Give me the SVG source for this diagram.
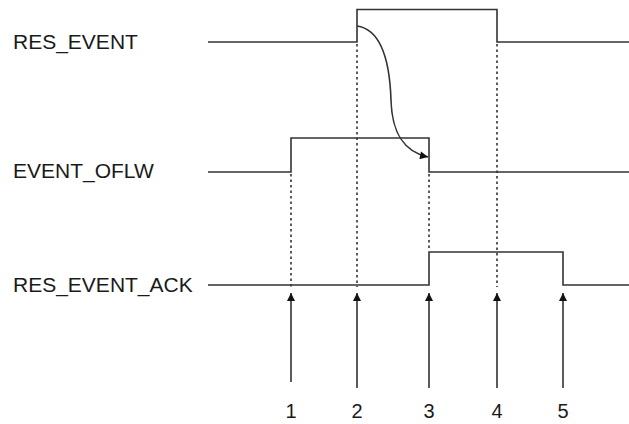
<svg xmlns="http://www.w3.org/2000/svg" width="629" height="424" viewBox="0 0 629 424">
<style>
.sig{fill:none;stroke:#333;stroke-width:1.6;stroke-linejoin:miter}
.dot{fill:none;stroke:#333;stroke-width:1.6;stroke-dasharray:2.5,3}
.arr{fill:none;stroke:#333;stroke-width:1.6}
.lbl{font-family:"Liberation Sans",Arial,sans-serif;font-size:21px;fill:#1a1a1a}
.num{font-family:"Liberation Sans",Arial,sans-serif;font-size:20px;fill:#1a1a1a;text-anchor:middle}
</style>
<defs>
<marker id="ah" viewBox="0 0 10 10" refX="10" refY="5" markerUnits="userSpaceOnUse" markerWidth="12" markerHeight="8" orient="auto">
<path d="M0,0 L10,5 L0,10 z" fill="#111"/>
</marker>
</defs>
<g id="res_event">
<text class="lbl" x="13" y="49">RES_EVENT</text>
<path class="sig" d="M208,42 H357 V9.5 H497 V42 H629"/>
</g>
<g id="event_oflw">
<text class="lbl" x="13" y="178">EVENT_OFLW</text>
<path class="sig" d="M208,172 H291 V138 H429 V172 H629"/>
</g>
<g id="res_event_ack">
<text class="lbl" x="13" y="292">RES_EVENT_ACK</text>
<path class="sig" d="M208,285 H429 V252 H563 V285 H629"/>
</g>
<g id="connectors">
<path class="dot" d="M291,174 V287"/>
<path class="dot" d="M357,44 V287"/>
<path class="dot" d="M429,174 V251"/>
<path class="dot" d="M497,44 V287"/>
<path class="arr" d="M357,26 C385,30 390,70 391,100 C392,135 405,152 428,157" marker-end="url(#ah)"/>
<path class="arr" d="M291,382 V293" marker-end="url(#ah)"/>
<path class="arr" d="M357,388 V293" marker-end="url(#ah)"/>
<path class="arr" d="M429,388 V293" marker-end="url(#ah)"/>
<path class="arr" d="M497,388 V293" marker-end="url(#ah)"/>
<path class="arr" d="M563,388 V293" marker-end="url(#ah)"/>
</g>
<g id="ticks">
<text class="num" x="291" y="418">1</text>
<text class="num" x="357" y="418">2</text>
<text class="num" x="429" y="418">3</text>
<text class="num" x="497" y="418">4</text>
<text class="num" x="563" y="418">5</text>
</g>
</svg>
